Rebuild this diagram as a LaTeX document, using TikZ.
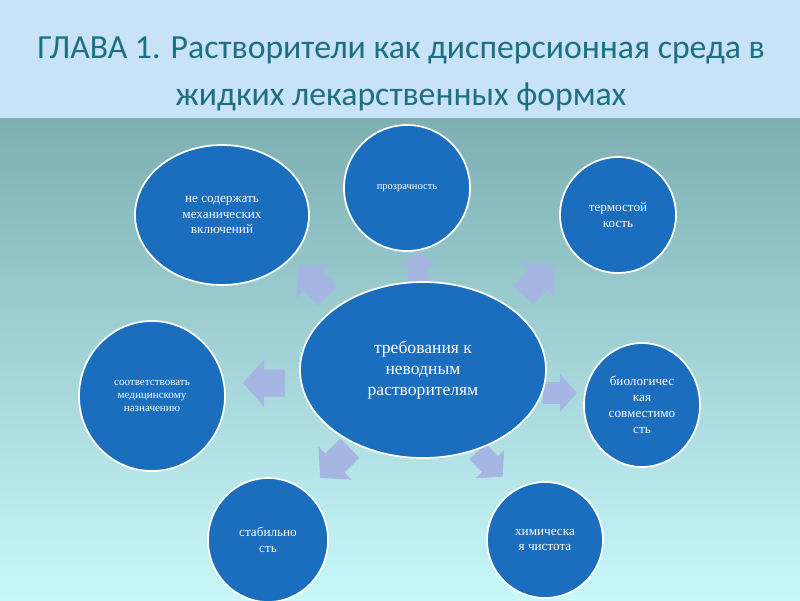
\documentclass[tikz,border=0pt]{standalone}
\usepackage{fontspec}
\setmainfont{Liberation Serif}
\newfontfamily\titlefont{Carlito}
\usetikzlibrary{shapes.geometric}
\definecolor{circ}{HTML}{1B6DBE}
\definecolor{arr}{HTML}{A6B6E2}
\definecolor{band}{HTML}{C8E2F7}
\definecolor{ttl}{HTML}{1E6F82}
\definecolor{bgtop}{HTML}{7DAFB3}
\definecolor{bgbot}{HTML}{C9F8FB}
\tikzset{
 req/.style={ellipse, fill=circ, draw=white, line width=1pt, text=white, align=center, inner sep=0pt},
 pics/barrow/.style={code={
   \fill[arr] (-0.42cm,-0.27cm) -- (0cm,-0.27cm) -- (0cm,-0.47cm) -- (0.42cm,0cm) -- (0cm,0.47cm) -- (0cm,0.27cm) -- (-0.42cm,0.27cm) -- cycle;}},
}
\begin{document}
\begin{tikzpicture}[x=0.02cm,y=-0.02cm]
\useasboundingbox (0,0) rectangle (800,600);
\fill[top color=bgtop, bottom color=bgbot] (0,118) rectangle (800,600);
\fill[band] (0,0) rectangle (800,118);
\node[text=ttl, align=center, font=\titlefont\fontsize{19.2}{27}\selectfont] (title) at (401,74) {ГЛАВА 1. Растворители как дисперсионная среда в\\жидких лекарственных формах};
\pic[rotate=135] at (313,281) {barrow};
\pic[rotate=90, scale=0.75] at (418,266) {barrow};
\pic[rotate=45] at (538,280) {barrow};
\pic[rotate=180] at (264,383) {barrow};
\pic[rotate=0, scale=0.8] at (560,393) {barrow};
\pic[rotate=225] at (335,463) {barrow};
\pic[rotate=315, scale=0.85] at (490,464) {barrow};
\node[req, minimum width=246*0.02cm, minimum height=176*0.02cm, font=\fontsize{10}{12}\selectfont] (c) at (423,370) {требования к\\неводным\\растворителям};
\node[req, minimum width=174*0.02cm, minimum height=140*0.02cm, font=\fontsize{7.5}{9}\selectfont] (n1) at (222,215) {не содержать\\механических\\включений};
\node[req, minimum width=126*0.02cm, minimum height=126*0.02cm, font=\fontsize{6}{7}\selectfont] (n2) at (407,188) {прозрачность};
\node[req, minimum width=116*0.02cm, minimum height=116*0.02cm, font=\fontsize{7.5}{9}\selectfont] (n3) at (618,215) {термостой\\кость};
\node[req, minimum width=146*0.02cm, minimum height=150*0.02cm, font=\fontsize{6.3}{7.5}\selectfont] (n4) at (152,396) {соответствовать\\медицинскому\\назначению};
\node[req, minimum width=116*0.02cm, minimum height=124*0.02cm, font=\fontsize{7.5}{9}\selectfont] (n5) at (642,405) {биологичес\\кая\\совместимо\\сть};
\node[req, minimum width=120*0.02cm, minimum height=124*0.02cm, font=\fontsize{7.5}{9}\selectfont] (n6) at (268,540) {стабильно\\сть};
\node[req, minimum width=116*0.02cm, minimum height=116*0.02cm, font=\fontsize{7.5}{9}\selectfont] (n7) at (545,540) {химическа\\я чистота};
\end{tikzpicture}
\end{document}
